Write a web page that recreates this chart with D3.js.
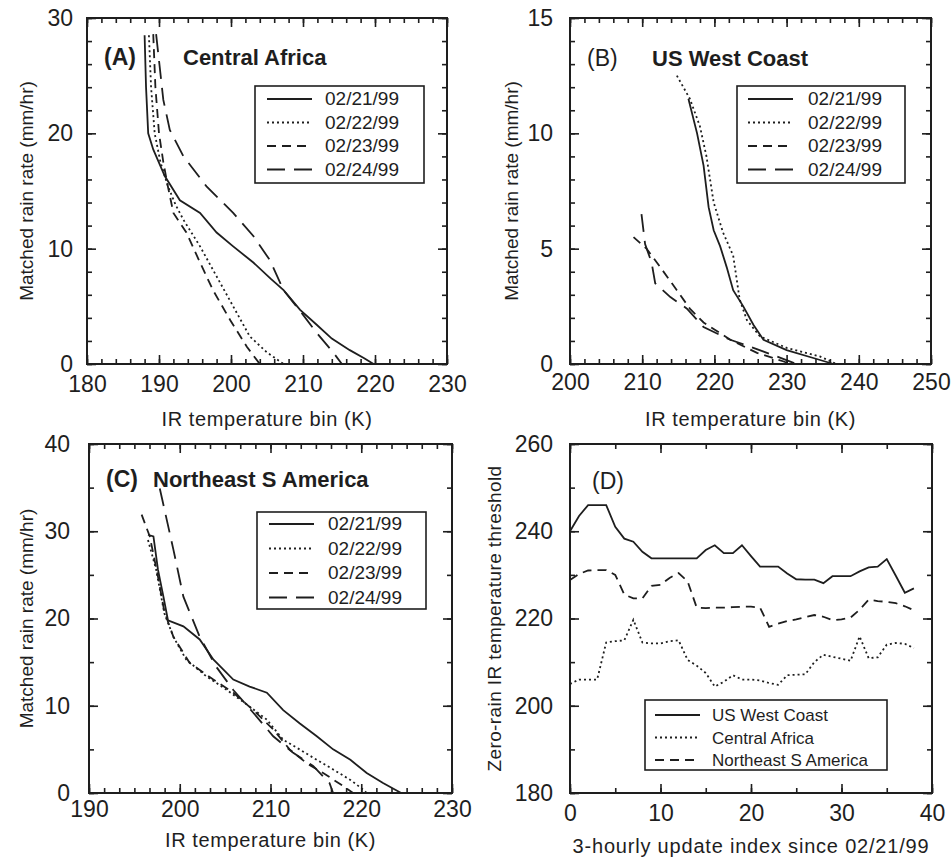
<!DOCTYPE html>
<html>
<head>
<meta charset="utf-8">
<script src="https://cdn.jsdelivr.net/npm/d3@7"></script>
<style>
  body { margin: 0; background: #fff; }
  text { font-family: "Liberation Sans", Arial, Helvetica, sans-serif; fill: #1e1e1e; }
</style>
</head>
<body>
<script>
// legend labels
var dates = ['02/21/99', '02/22/99', '02/23/99', '02/24/99'];
var regions = ['US West Coast', 'Central Africa', 'Northeast S America'];

// (A) Central Africa: [IR temperature bin K, matched rain rate mm/hr]
var africa21 = [[188.0,28.5],[188.2,24],[188.5,20],[189.2,18.6],[190.8,16.3],[192.9,14.2],[195.7,13.1],[198,11.4],[200.3,10.2],[203.1,8.8],[205.5,7.4],[207.3,6.4],[209.6,4.7],[211.9,3.4],[214,2.2],[216.5,1.2],[218.5,0.5],[219.8,0]];
var africa22 = [[188.6,28.5],[188.9,24],[189.4,20],[190.2,17.5],[191.2,15.5],[192.3,13.8],[193.4,12.5],[195.7,10.2],[198,7.6],[200.3,5.0],[202.6,2.4],[205,1.0],[207.3,0]];
var africa23 = [[189.2,28.6],[189.5,24],[190,20],[190.6,17.5],[191.2,15.5],[192,13.1],[193.8,11.4],[195.7,8.8],[197.5,6.4],[199.9,3.8],[202.2,1.5],[204,0]];
var africa24 = [[189.6,28.6],[190.6,22.9],[191.5,20.3],[193.4,18],[196.6,15.4],[200.3,13.1],[203.1,11.1],[205.4,9.0],[207.3,6.4],[209.6,4.6],[211.9,2.7],[214.2,1.0],[215.4,0]];

// (B) US West Coast
var coast21 = [[216.4,11.5],[217.6,10.0],[218.5,8.6],[219.2,6.8],[219.9,5.8],[220.8,5.1],[221.7,4.2],[222.6,3.2],[224,2.5],[225.4,1.7],[226.8,1.05],[230,0.6],[233.7,0.26],[236.5,0]];
var coast22 = [[214.8,12.5],[216.6,11.5],[218,10.3],[218.9,9.0],[219.9,7.0],[221.2,5.7],[222.6,4.7],[223.5,2.8],[224.5,1.9],[226.3,1.2],[230,0.7],[234.6,0.33],[236.9,0]];
var coast23 = [[208.8,5.5],[210.6,5.0],[212.5,4.2],[214.8,3.2],[216.6,2.4],[218.5,1.8],[222.2,1.05],[225.9,0.48],[229.5,0.12],[230.5,0]];
var coast24 = [[209.9,6.5],[210.4,5.2],[211.3,4.4],[211.8,3.5],[213.9,2.9],[216.2,2.4],[218.5,1.6],[222.2,1.05],[225.4,0.7],[228.6,0.33],[231.4,0]];

// (C) Northeast S America
var amer21 = [[196.5,29.6],[197.1,29.4],[197.6,25.6],[198.2,22.5],[198.7,19.8],[200.4,19.1],[202.2,17.6],[203.7,15.3],[205.9,13.0],[207.7,12.2],[209.6,11.5],[211.4,9.5],[213.2,8.0],[215.1,6.5],[216.9,5.0],[218.8,3.8],[220.6,2.3],[222.4,1.15],[224.4,0]];
var amer22 = [[196.5,29],[197.4,25.6],[198.3,20.6],[199.3,17.9],[200.7,15.3],[202.9,13.4],[205.2,11.8],[207.7,9.9],[209.6,8.4],[211.4,6.1],[213.2,5.0],[215.1,3.8],[216.9,2.7],[218.8,1.5],[220.2,0.4],[220.6,0]];
var amer23 = [[195.8,31.9],[196.7,29.4],[197.6,24.8],[198.3,20.8],[199.3,17.9],[201.1,14.9],[203.7,13.0],[205.9,11.5],[208.1,9.5],[210.3,7.3],[212.1,5.0],[214,3.4],[215.8,2.3],[218,0.8],[219.1,0]];
var amer24 = [[197.8,34.9],[199.3,27.9],[200.4,22.5],[202.2,17.9],[204,14.5],[205.9,11.8],[208.1,9.2],[210.3,6.5],[212.5,4.6],[214.7,3.1],[216.5,1.15],[216.9,0]];

// (D) zero-rain IR threshold per 3-hourly update index 0..38
var coastZero = [240,243.5,246,246,246,241,238.3,237.6,235.3,233.8,233.8,233.8,233.8,233.8,233.8,235.7,236.8,235,235,236.8,234.3,231.9,231.9,231.9,230.3,229,228.9,228.9,228.1,229.7,229.7,229.7,230.8,231.7,231.9,233.6,229.8,225.9,226.9];
var africaZero = [205,206,206,206,214.5,214.8,215,219.7,214.5,214.3,214.3,214.8,215,210.5,209.2,207.5,204.4,205.5,207,206,206,205.8,205.2,204.8,207,207.1,207.2,210,211.7,211.2,210.8,210.3,215.9,210.9,211.1,214,214.4,214.2,213.2];
var americaZero = [228.8,230.2,231,231.1,231.1,230,225.5,224.6,224.6,227.5,227.7,229.3,230.4,228.5,222.5,222.4,222.5,222.5,222.6,222.7,222.7,222.5,218.1,218.8,219.4,219.8,220.3,220.8,220.4,219.6,219.8,220.2,222,224.3,224,223.8,223.5,222.8,221.9];

var ink = '#1e1e1e';
var dashes = { solid: null, dot: '2,3', dash: '9,6', longdash: '18,9' };
var font = '"Liberation Sans", Arial, Helvetica, sans-serif';

var svg = d3.select('body').append('svg')
  .attr('width', 951)
  .attr('height', 858);

function toPairs(vals) {
  return vals.map(function(v, i) { return [i, v]; });
}

function drawPanel(p) {
  var x = d3.scaleLinear().domain(p.xDomain).range([p.left, p.right]);
  var y = d3.scaleLinear().domain(p.yDomain).range([p.bottom, p.top]);
  var g = svg.append('g');

  var xMajor = d3.range(p.xDomain[0], p.xDomain[1] + 1e-6, p.xStep);
  var yMajor = d3.range(p.yDomain[0], p.yDomain[1] + 1e-6, p.yStep);
  var xMinor = d3.range(p.xDomain[0], p.xDomain[1] + 1e-6, p.xStep / p.xSub);
  var yMinor = d3.range(p.yDomain[0], p.yDomain[1] + 1e-6, p.yStep / p.ySub);

  function style(sel) {
    sel.select('.domain').remove();
    sel.selectAll('line').attr('stroke', ink).attr('stroke-width', 1.6);
    sel.attr('font-size', 23).attr('font-family', font);
    sel.selectAll('text').attr('fill', ink);
  }

  // minor ticks on four sides, pointing inward
  g.append('g').attr('transform', 'translate(0,' + p.bottom + ')')
    .call(d3.axisBottom(x).tickValues(xMinor).tickSize(-5).tickFormat('')).call(style);
  g.append('g').attr('transform', 'translate(0,' + p.top + ')')
    .call(d3.axisTop(x).tickValues(xMinor).tickSize(-5).tickFormat('')).call(style);
  g.append('g').attr('transform', 'translate(' + p.left + ',0)')
    .call(d3.axisLeft(y).tickValues(yMinor).tickSize(-5).tickFormat('')).call(style);
  g.append('g').attr('transform', 'translate(' + p.right + ',0)')
    .call(d3.axisRight(y).tickValues(yMinor).tickSize(-5).tickFormat('')).call(style);

  // major ticks with labels
  g.append('g').attr('transform', 'translate(0,' + p.bottom + ')')
    .call(d3.axisBottom(x).tickValues(xMajor).tickSize(-9).tickPadding(p.xPad).tickFormat(d3.format('d'))).call(style);
  g.append('g').attr('transform', 'translate(0,' + p.top + ')')
    .call(d3.axisTop(x).tickValues(xMajor).tickSize(-9).tickFormat('')).call(style);
  g.append('g').attr('transform', 'translate(' + p.left + ',0)')
    .call(d3.axisLeft(y).tickValues(yMajor).tickSize(-9).tickPadding(p.yPad).tickFormat(d3.format('d'))).call(style);
  g.append('g').attr('transform', 'translate(' + p.right + ',0)')
    .call(d3.axisRight(y).tickValues(yMajor).tickSize(-9).tickFormat('')).call(style);

  // frame
  g.append('rect')
    .attr('x', p.left).attr('y', p.top)
    .attr('width', p.right - p.left).attr('height', p.bottom - p.top)
    .attr('fill', 'none').attr('stroke', ink).attr('stroke-width', 2);

  // curves
  var line = d3.line().x(function(d) { return x(d[0]); }).y(function(d) { return y(d[1]); });
  p.series.forEach(function(s) {
    g.append('path')
      .attr('d', line(s.data))
      .attr('fill', 'none')
      .attr('stroke', ink)
      .attr('stroke-width', 1.8)
      .attr('stroke-dasharray', dashes[s.dash]);
  });

  // panel tag and region name
  g.append('text').attr('x', p.tagX).attr('y', p.tagY)
    .attr('font-size', 23).attr('font-weight', p.tagBold ? 'bold' : 'normal')
    .text(p.tag);
  if (p.name) {
    g.append('text').attr('x', p.nameX).attr('y', p.tagY)
      .attr('font-size', 22).attr('font-weight', 'bold')
      .text(p.name);
  }

  // axis titles
  g.append('text')
    .attr('x', (p.left + p.right) / 2).attr('y', p.xTitleY)
    .attr('text-anchor', 'middle').attr('font-size', 20)
    .attr('letter-spacing', p.xTitleSpacing)
    .text(p.xTitle);
  g.append('text')
    .attr('transform', 'translate(' + p.yTitleX + ',' + (p.top + p.bottom) / 2 + ') rotate(-90)')
    .attr('text-anchor', 'middle').attr('font-size', 19)
    .attr('letter-spacing', p.yTitleSpacing)
    .text(p.yTitle);

  // legend
  var L = p.legend;
  g.append('rect')
    .attr('x', L.x).attr('y', L.y).attr('width', L.w).attr('height', L.h)
    .attr('fill', '#fff').attr('stroke', ink).attr('stroke-width', 1.6);
  p.series.forEach(function(s, i) {
    var ly = L.y + L.first + i * L.gap;
    g.append('line')
      .attr('x1', L.x + L.pad).attr('x2', L.x + L.pad + L.sample)
      .attr('y1', ly).attr('y2', ly)
      .attr('stroke', ink).attr('stroke-width', 1.8)
      .attr('stroke-dasharray', dashes[s.dash]);
    g.append('text')
      .attr('x', L.x + L.textX).attr('y', ly + 6)
      .attr('font-size', L.font)
      .text(s.label);
  });
}

var dateStyles = ['solid', 'dot', 'dash', 'longdash'];
function dateSeries(arrs) {
  return arrs.map(function(a, i) { return { data: a, dash: dateStyles[i], label: dates[i] }; });
}

var rateTitle = 'Matched rain rate (mm/hr)';
var irTitle = 'IR temperature bin (K)';

drawPanel({
  left: 87, right: 447, top: 18, bottom: 364,
  xDomain: [180, 230], xStep: 10, xSub: 5, xPad: 12,
  yDomain: [0, 30], yStep: 10, ySub: 5, yPad: 14,
  tag: '(A)', tagBold: true, tagX: 104, tagY: 65, name: 'Central Africa', nameX: 183,
  xTitle: irTitle, xTitleY: 426, xTitleSpacing: 0.6, yTitle: rateTitle, yTitleX: 33, yTitleSpacing: 0,
  legend: { x: 255, y: 86, w: 169, h: 97, first: 13, gap: 23.5, pad: 12, sample: 45, textX: 70, font: 19 },
  series: dateSeries([africa21, africa22, africa23, africa24])
});

drawPanel({
  left: 570, right: 931, top: 18, bottom: 364,
  xDomain: [200, 250], xStep: 10, xSub: 5, xPad: 10,
  yDomain: [0, 15], yStep: 5, ySub: 5, yPad: 17,
  tag: '(B)', tagBold: false, tagX: 587, tagY: 66, name: 'US West Coast', nameX: 652,
  xTitle: irTitle, xTitleY: 426, xTitleSpacing: 0.6, yTitle: rateTitle, yTitleX: 518, yTitleSpacing: 0,
  legend: { x: 737, y: 86, w: 168, h: 97, first: 13, gap: 23.5, pad: 11, sample: 45, textX: 71, font: 19 },
  series: dateSeries([coast21, coast22, coast23, coast24])
});

drawPanel({
  left: 89, right: 452, top: 444, bottom: 793,
  xDomain: [190, 230], xStep: 10, xSub: 6, xPad: 8,
  yDomain: [0, 40], yStep: 10, ySub: 2, yPad: 19,
  tag: '(C)', tagBold: true, tagX: 106, tagY: 487, name: 'Northeast S America', nameX: 153,
  xTitle: irTitle, xTitleY: 847, xTitleSpacing: 0.6, yTitle: rateTitle, yTitleX: 33, yTitleSpacing: 0,
  legend: { x: 257, y: 512, w: 169, h: 97, first: 12, gap: 24.5, pad: 12, sample: 45, textX: 71, font: 19 },
  series: dateSeries([amer21, amer22, amer23, amer24])
});

drawPanel({
  left: 570, right: 932, top: 444, bottom: 793,
  xDomain: [0, 40], xStep: 10, xSub: 2, xPad: 12,
  yDomain: [180, 260], yStep: 20, ySub: 2, yPad: 17,
  tag: '(D)', tagBold: false, tagX: 592, tagY: 489, name: null,
  xTitle: '3-hourly update index since 02/21/99', xTitleY: 853, xTitleSpacing: 0.8,
  yTitle: 'Zero-rain IR temperature threshold', yTitleX: 501, yTitleSpacing: 0.4,
  legend: { x: 645, y: 700, w: 242, h: 70, first: 15, gap: 22.5, pad: 10, sample: 45, textX: 67, font: 17 },
  series: [
    { data: toPairs(coastZero), dash: 'solid', label: regions[0] },
    { data: toPairs(africaZero), dash: 'dot', label: regions[1] },
    { data: toPairs(americaZero), dash: 'dash', label: regions[2] }
  ]
});
</script>
</body>
</html>
